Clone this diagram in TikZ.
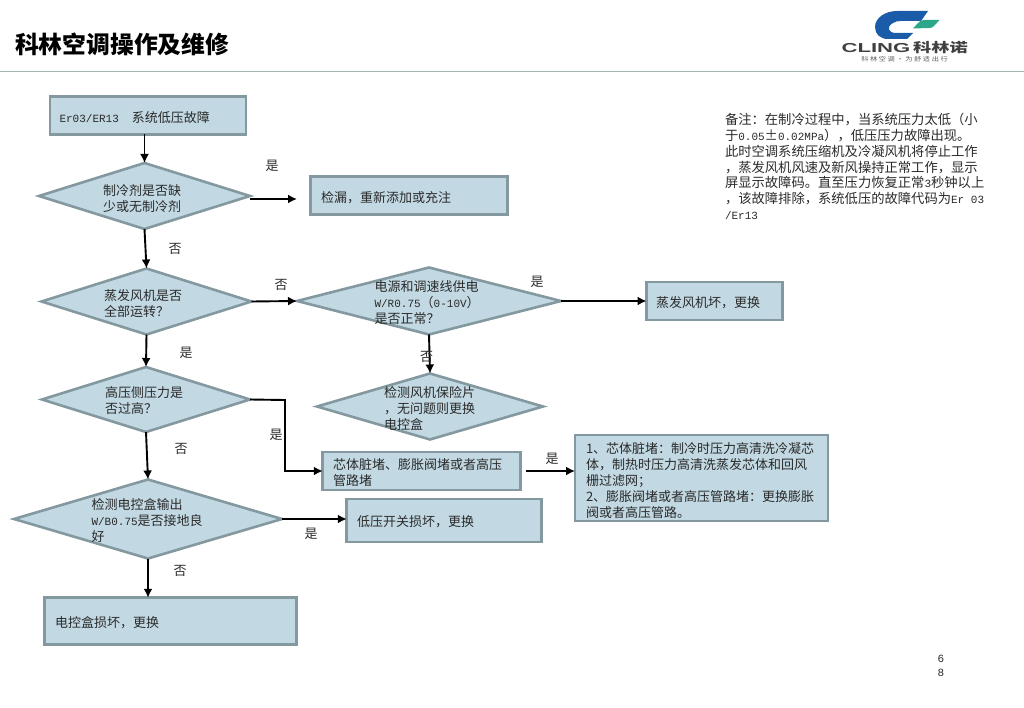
\documentclass[tikz,border=0pt]{standalone}
\usepackage{fontspec}
\setmainfont{Noto Sans CJK SC}
\newfontfamily\latf{Liberation Mono}
\newfontfamily\lgf{Liberation Sans}
\newcommand{\lat}[1]{{\latf\fontsize{11}{16}\selectfont #1}}
\usetikzlibrary{shapes.geometric,arrows.meta}
\definecolor{boxfill}{HTML}{C2D9E3}
\definecolor{boxedge}{HTML}{84999F}
\definecolor{inkc}{HTML}{2A2A2A}
\definecolor{logoblue}{HTML}{1A5CA8}
\definecolor{logoteal}{HTML}{2BA88A}
\definecolor{rulec}{HTML}{A3B8B2}
\tikzset{
 every node/.style={inner sep=0pt,outer sep=0pt},
 boxn/.style={draw=boxedge,fill=boxfill,line width=2.6pt,rectangle},
 dian/.style={draw=boxedge,fill=boxfill,line width=2.6pt,diamond},
 txt/.style={anchor=west,align=left,text=inkc,font=\fontsize{13}{16}\selectfont},
 lab/.style={text=inkc,font=\fontsize{13}{16}\selectfont},
 arr/.style={draw=black,line width=1.9pt,-{Latex[length=9pt,width=9pt]}},
}
\begin{document}
\begin{tikzpicture}[x=1pt,y=-1pt]
\useasboundingbox (0,0) rectangle (1024,708);
% header
\node[anchor=west,font=\fontsize{23.8}{30}\selectfont\bfseries,text=black] (title) at (15,44) {科林空调操作及维修};
\draw[draw=rulec,line width=1.6pt] (0,71.5) -- (1024,71.5);
% logo
\fill[fill=logoblue] (928,11) -- (897,11) .. controls (885,11) and (875,18) .. (875,27) .. controls (875,34) and (880,39) .. (888,39) -- (907,39) -- (913,33) -- (896,33) .. controls (888,33) and (886,27) .. (893,23) .. controls (895,21.5) and (898,21) .. (901,21) -- (921,21) -- cycle;
\fill[fill=logoteal] (924,20) -- (939.5,20) -- (934,26) .. controls (933,27.5) and (931,28) .. (929,28) -- (913,28.5) -- (918,23) .. controls (919.5,21) and (921.5,20) .. (924,20) -- cycle;
\node[font=\lgf\fontsize{13}{14}\selectfont\bfseries,text=black!75,xscale=1.7] (logoa) at (876,48.5) {CLING};
\node[font=\fontsize{13}{14}\selectfont\bfseries,text=black!75,xscale=1.4] (logob) at (940.5,48) {科林诺};
\node[font=\fontsize{6}{7}\selectfont,text=black!65,xscale=1.2] (logoc) at (904.5,59) {科 林 空 调 · 为 舒 适 出 行};
% shapes
\node[boxn,minimum width=196pt,minimum height=37.5pt] (b1) at (148,115.5) {};
\node[dian,minimum width=211pt,minimum height=66pt] (d1) at (144.5,196) {};
\node[boxn,minimum width=197pt,minimum height=38pt] (b2) at (409,195.5) {};
\node[dian,minimum width=210pt,minimum height=66pt] (d2) at (146.5,301.5) {};
\node[dian,minimum width=264pt,minimum height=67pt] (d3) at (429,301) {};
\node[boxn,minimum width=136pt,minimum height=38pt] (b3) at (714.5,301) {};
\node[dian,minimum width=226pt,minimum height=66pt] (d4) at (430,406.5) {};
\node[dian,minimum width=208pt,minimum height=65pt] (d5) at (146,399.5) {};
\node[boxn,minimum width=197.5pt,minimum height=38pt] (b4) at (421.5,471) {};
\node[boxn,minimum width=253pt,minimum height=86pt] (b5) at (701.5,478) {};
\node[dian,minimum width=268pt,minimum height=79pt] (d6) at (148,519) {};
\node[boxn,minimum width=194.5pt,minimum height=43pt] (b6) at (444,520.5) {};
\node[boxn,minimum width=252pt,minimum height=46.5pt] (b7) at (170.5,621) {};
% free ends
\coordinate (e1) at (297,199);
\coordinate (e2) at (526,471);
\coordinate (elbow1) at (285,400);
\coordinate (elbow2) at (285,471);
% connectors
\draw[arr] (d1.north |- b1.south) -- (d1.north);
\draw[arr] (d1.east |- e1) -- (e1);
\draw[arr] (d1.south) -- (d2.north);
\draw[arr] (d2.east) -- (d3.west);
\draw[arr] (d3.east) -- (b3.west);
\draw[arr] (d3.south) -- (d4.north);
\draw[arr] (d2.south) -- (d5.north);
\draw[arr] (d5.east) -- (elbow1) -- (elbow2) -- (b4.west);
\draw[arr] (e2) -- (b5.west |- e2);
\draw[arr] (d5.south) -- (d6.north);
\draw[arr] (d6.east) -- (b6.west |- d6.east);
\draw[arr] (d6.south) -- (d6.south |- b7.north);
% texts
\node[txt] (t1) at (59.5,117.5) {\lat{Er03/ER13}\hspace{13pt}系统低压故障};
\node[txt] (t2) at (103,198.5) {制冷剂是否缺\\少或无制冷剂};
\node[txt] (t3) at (321,197.5) {检漏，重新添加或充注};
\node[txt] (t4) at (104,304) {蒸发风机是否\\全部运转？};
\node[txt] (t5) at (374.5,303) {电源和调速线供电\\\lat{W/R0.75}（\lat{0-10V}）\\是否正常？};
\node[txt] (t6) at (656,303) {蒸发风机坏，更换};
\node[txt] (t7) at (384,408.5) {检测风机保险片\\，无问题则更换\\电控盒};
\node[txt] (t8) at (105,401) {高压侧压力是\\否过高？};
\node[txt] (t9) at (333,473) {芯体脏堵、膨胀阀堵或者高压\\管路堵};
\node[txt] (t10) at (586,480.5) {1、芯体脏堵：制冷时压力高清洗冷凝芯\\体，制热时压力高清洗蒸发芯体和回风\\栅过滤网；\\2、膨胀阀堵或者高压管路堵：更换膨胀\\阀或者高压管路。};
\node[txt] (t11) at (91.5,520.5) {检测电控盒输出\\\lat{W/B0.75}是否接地良\\好};
\node[txt] (t12) at (357,522) {低压开关损坏，更换};
\node[txt] (t13) at (55,622.5) {电控盒损坏，更换};
\node[txt,font=\fontsize{13.3}{15.8}\selectfont] (note) at (725,166.5) {备注：在制冷过程中，当系统压力太低（小\\于\lat{0.05}±\lat{0.02MPa}），低压压力故障出现。\\此时空调系统压缩机及冷凝风机将停止工作\\，蒸发风机风速及新风操持正常工作，显示\\屏显示故障码。直至压力恢复正常\lat{3}秒钟以上\\，该故障排除，系统低压的故障代码为\lat{Er 03}\\\lat{/Er13}};
% branch labels
\node[lab] (l1) at (272,165.5) {是};
\node[lab] (l2) at (175,248.5) {否};
\node[lab] (l3) at (281,284.5) {否};
\node[lab] (l4) at (537,282) {是};
\node[lab] (l5) at (426.5,357) {否};
\node[lab] (l6) at (186,352.5) {是};
\node[lab] (l7) at (181,448.5) {否};
\node[lab] (l8) at (276,434.5) {是};
\node[lab] (l9) at (552,459) {是};
\node[lab] (l10) at (311,533.5) {是};
\node[lab] (l11) at (180,571) {否};
% page number
\node[txt,anchor=center,align=center,font=\fontsize{11}{14}\selectfont\latf] (pg) at (941,666) {6\\8};
\end{tikzpicture}
\end{document}
